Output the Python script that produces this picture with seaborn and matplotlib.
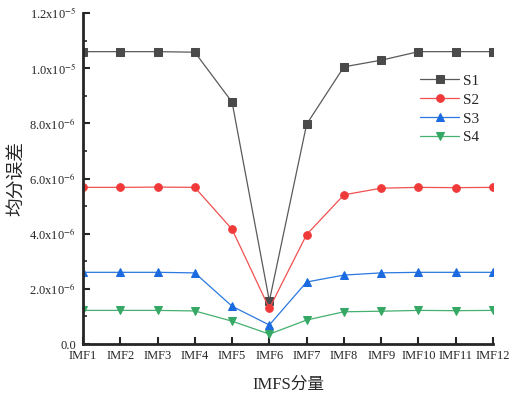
import matplotlib
matplotlib.use("Agg")
import matplotlib.pyplot as plt
import seaborn as sns
import pandas as pd
import math
from matplotlib.ticker import FuncFormatter, MultipleLocator

categories = ["IMF1", "IMF2", "IMF3", "IMF4", "IMF5", "IMF6", "IMF7", "IMF8", "IMF9", "IMF10", "IMF11", "IMF12"]
s1 = [10.6e-6, 10.6e-6, 10.6e-6, 10.58e-6, 8.77e-6, 1.56e-6, 7.97e-6, 10.05e-6, 10.29e-6, 10.6e-6, 10.6e-6, 10.6e-6]
s2 = [5.68e-6, 5.68e-6, 5.69e-6, 5.68e-6, 4.16e-6, 1.29e-6, 3.97e-6, 5.41e-6, 5.65e-6, 5.68e-6, 5.67e-6, 5.68e-6]
s3 = [2.6e-6, 2.6e-6, 2.6e-6, 2.58e-6, 1.37e-6, 0.69e-6, 2.25e-6, 2.5e-6, 2.58e-6, 2.6e-6, 2.6e-6, 2.6e-6]
s4 = [1.22e-6, 1.22e-6, 1.22e-6, 1.2e-6, 0.83e-6, 0.36e-6, 0.87e-6, 1.17e-6, 1.19e-6, 1.22e-6, 1.21e-6, 1.22e-6]
series_names = ["S1", "S2", "S3", "S4"]
y_ticks = [0, 2e-6, 4e-6, 6e-6, 8e-6, 10e-6, 12e-6]

sns.set_style("ticks")
plt.rcParams["font.family"] = ["Liberation Serif", "Noto Sans CJK SC"]
plt.rcParams["mathtext.fontset"] = "stix"

rows = []
for name, vals in zip(series_names, [s1, s2, s3, s4]):
    for i, v in enumerate(vals):
        rows.append({"x": i, "y": v, "series": name})
df = pd.DataFrame(rows)

palette = {"S1": "#4a4a4a", "S2": "#f03a3a", "S3": "#1a6ae0", "S4": "#35a865"}
line_colors = {"S1": "#5a5a5a", "S2": "#f05050", "S3": "#2a78e0", "S4": "#45b070"}
markers = {"S1": "s", "S2": "o", "S3": "^", "S4": "v"}

fig = plt.figure(figsize=(5.12, 3.95), dpi=100)
ax = fig.add_axes([0.162, 0.129, 0.801, 0.838])

for name in series_names:
    sub = df[df.series == name]
    sns.lineplot(data=sub, x="x", y="y", ax=ax, color=line_colors[name], linewidth=0.9,
                 marker=markers[name], markersize=5.5, markerfacecolor=palette[name],
                 markeredgecolor=palette[name], label=name, clip_on=True)

ax.set_xlim(0, 11)
ax.set_ylim(0, 1.2e-5)
ax.set_xticks(range(len(categories)))
ax.set_xticklabels(categories)
ax.set_yticks(y_ticks)
ax.yaxis.set_minor_locator(MultipleLocator(1e-6))

def fmt(v, pos):
    if abs(v) < 1e-12:
        return "0.0"
    e = int(math.floor(math.log10(abs(v)) + 1e-9))
    m = v / 10 ** e
    return "%.1fx10$^{%d}$" % (m, e)

ax.yaxis.set_major_formatter(FuncFormatter(fmt))
ax.tick_params(axis="x", which="major", direction="in", length=5, width=1.5, labelsize=9, pad=4)
ax.tick_params(axis="y", which="major", direction="in", length=5, width=1.5, labelsize=9, pad=5)
ax.tick_params(axis="y", which="minor", direction="in", length=3, width=1.2)
sns.despine(ax=ax)
for sp in ["left", "bottom"]:
    ax.spines[sp].set_linewidth(2)

ax.set_xlabel("IMFS分量", fontsize=12, labelpad=11)
ax.set_ylabel("均分误差", fontsize=13.5, labelpad=3)

leg = ax.legend(loc="upper right", bbox_to_anchor=(1.0, 0.857), frameon=False, fontsize=11,
                handlelength=2.5, handletextpad=0.3, labelspacing=0.34)

fig.savefig("out.png", dpi=100)
